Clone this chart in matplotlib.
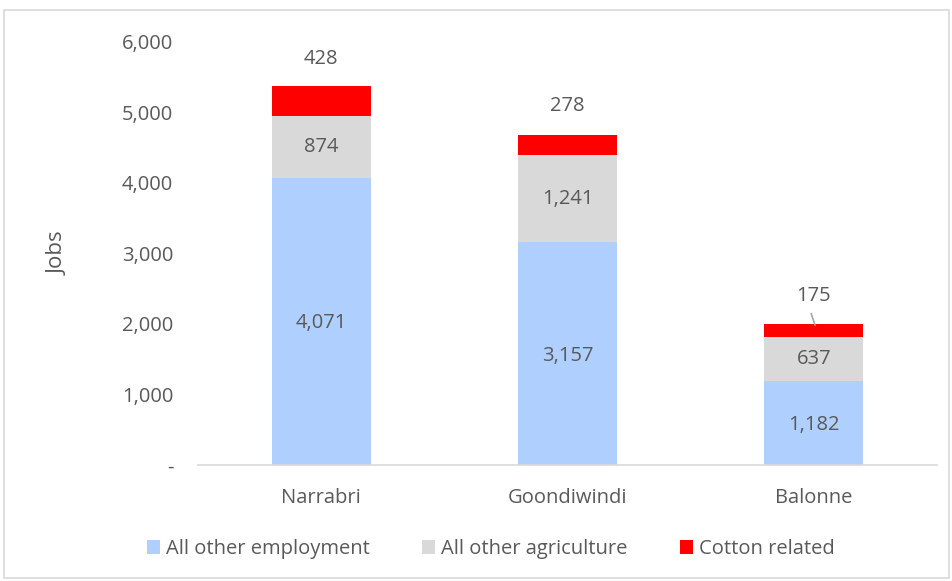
import matplotlib.pyplot as plt
from matplotlib.patches import Rectangle

plt.rcParams['font.family'] = ['Open Sans', 'DejaVu Sans']

regions = ['Narrabri', 'Goondiwindi', 'Balonne']
other_employment = [4071, 3157, 1182]
other_agriculture = [874, 1241, 637]
cotton_related = [428, 278, 175]

TXT = '#595959'
COLORS = ['#AFD0FF', '#D9D9D9', '#FF0000']

fig = plt.figure(figsize=(9.53, 5.81), dpi=100)
ax = fig.add_axes([0.208, 0.2, 0.775, 0.728])

# light frame round the whole chart
fig.patches.append(Rectangle((0.004, 0.005), 0.992, 0.977, transform=fig.transFigure,
                             fill=False, edgecolor='#D9D9D9', linewidth=1.2))

x = range(len(regions))
w = 0.4
base2 = other_employment
base3 = [a + b for a, b in zip(other_employment, other_agriculture)]
b1 = ax.bar(x, other_employment, w, color=COLORS[0], label='All other employment')
b2 = ax.bar(x, other_agriculture, w, bottom=base2, color=COLORS[1], label='All other agriculture')
b3 = ax.bar(x, cotton_related, w, bottom=base3, color=COLORS[2], label='Cotton related')

fs = 14.5
for i in x:
    ax.text(i, other_employment[i] / 2 - 30, f'{other_employment[i]:,}', ha='center', va='center',
            color=TXT, fontsize=fs)
    ax.text(i, base2[i] + other_agriculture[i] / 2, f'{other_agriculture[i]:,}', ha='center',
            va='center', color=TXT, fontsize=fs)

# cotton labels sit above the stacks
top = [b + c for b, c in zip(base3, cotton_related)]
ax.text(0, top[0] + 390, f'{cotton_related[0]:,}', ha='center', va='center', color=TXT, fontsize=fs)
ax.text(1, top[1] + 420, f'{cotton_related[1]:,}', ha='center', va='center', color=TXT, fontsize=fs)
ax.text(2, top[2] + 400, f'{cotton_related[2]:,}', ha='center', va='center', color=TXT, fontsize=fs)
ax.plot([1.99, 2.005], [top[2] + 150, top[2] - 10], color='#A6A6A6', linewidth=1.2)

ax.set_xlim(-0.5, 2.5)
ax.set_ylim(0, 6000)
ax.set_yticks(range(0, 6001, 1000))
ax.set_yticklabels(['-'] + [f'{v:,}' for v in range(1000, 6001, 1000)])
ax.set_xticks(list(x))
ax.set_xticklabels(regions)
ax.tick_params(axis='both', length=0, colors=TXT, labelsize=fs)
ax.tick_params(axis='y', pad=18)
ax.tick_params(axis='x', pad=17)
for s in ['top', 'right', 'left']:
    ax.spines[s].set_visible(False)
ax.spines['bottom'].set_color('#D9D9D9')
ax.spines['bottom'].set_linewidth(1.2)
ax.set_ylabel('Jobs', color=TXT, fontsize=16, labelpad=38)

fig.legend(handles=[b1, b2, b3], loc='center', bbox_to_anchor=(0.515, 0.055), ncol=3,
           frameon=False, fontsize=fs, labelcolor=TXT, handlelength=0.65, handleheight=0.65,
           handletextpad=0.3, columnspacing=2.6)

fig.savefig('out.png', dpi=100)
